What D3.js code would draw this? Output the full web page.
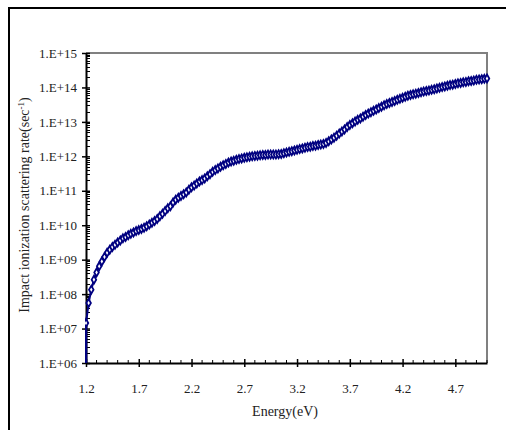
<!DOCTYPE html>
<html>
<head>
<meta charset="utf-8">
<script src="https://cdn.jsdelivr.net/npm/d3@7"></script>
<style>
  html, body { margin: 0; padding: 0; background: #fff; }
  svg text { font-family: 'Liberation Serif', 'DejaVu Serif', serif; fill: #222; }
</style>
</head>
<body>
<div id="chart"></div>
<script>
const navy = '#000080';
const grey = '#808080';

// energy (eV)
const energy = [
  1.200, 1.225, 1.250, 1.275, 1.300, 1.325, 1.350, 1.375, 1.400, 1.425,
  1.450, 1.475, 1.500, 1.525, 1.550, 1.575, 1.600, 1.625, 1.650, 1.675,
  1.700, 1.725, 1.750, 1.775, 1.800, 1.825, 1.850, 1.875, 1.900, 1.925,
  1.950, 1.975, 2.000, 2.025, 2.050, 2.075, 2.100, 2.125, 2.150, 2.175,
  2.200, 2.225, 2.250, 2.275, 2.300, 2.325, 2.350, 2.375, 2.400, 2.425,
  2.450, 2.475, 2.500, 2.525, 2.550, 2.575, 2.600, 2.625, 2.650, 2.675,
  2.700, 2.725, 2.750, 2.775, 2.800, 2.825, 2.850, 2.875, 2.900, 2.925,
  2.950, 2.975, 3.000, 3.025, 3.050, 3.075, 3.100, 3.125, 3.150, 3.175,
  3.200, 3.225, 3.250, 3.275, 3.300, 3.325, 3.350, 3.375, 3.400, 3.425,
  3.450, 3.475, 3.500, 3.525, 3.550, 3.575, 3.600, 3.625, 3.650, 3.675,
  3.700, 3.725, 3.750, 3.775, 3.800, 3.825, 3.850, 3.875, 3.900, 3.925,
  3.950, 3.975, 4.000, 4.025, 4.050, 4.075, 4.100, 4.125, 4.150, 4.175,
  4.200, 4.225, 4.250, 4.275, 4.300, 4.325, 4.350, 4.375, 4.400, 4.425,
  4.450, 4.475, 4.500, 4.525, 4.550, 4.575, 4.600, 4.625, 4.650, 4.675,
  4.700, 4.725, 4.750, 4.775, 4.800, 4.825, 4.850, 4.875, 4.900, 4.925,
  4.950, 4.975, 5.000
];

// log10 of impact ionization scattering rate (1/s)
const rateExp = [
   7.16,  7.74,  8.13,  8.42,  8.63,  8.81,  8.95,  9.08,  9.20,  9.29,
   9.37,  9.43,  9.50,  9.56,  9.62,  9.66,  9.71,  9.75,  9.79,  9.83,
   9.86,  9.89,  9.93,  9.97, 10.02, 10.07, 10.12, 10.18, 10.26, 10.33,
  10.41, 10.49, 10.55, 10.66, 10.74, 10.80, 10.85, 10.90, 10.95, 11.03,
  11.10, 11.15, 11.21, 11.27, 11.31, 11.36, 11.42, 11.48, 11.55, 11.60,
  11.65, 11.70, 11.74, 11.78, 11.82, 11.85, 11.87, 11.90, 11.92, 11.94,
  11.96, 11.97, 11.99, 12.00, 12.01, 12.02, 12.03, 12.04, 12.04, 12.05,
  12.05, 12.05, 12.05, 12.06, 12.07, 12.09, 12.11, 12.13, 12.15, 12.17,
  12.19, 12.21, 12.23, 12.25, 12.27, 12.28, 12.30, 12.31, 12.33, 12.34,
  12.36, 12.39, 12.44, 12.49, 12.54, 12.60, 12.66, 12.72, 12.78, 12.85,
  12.91, 12.96, 13.01, 13.06, 13.10, 13.15, 13.20, 13.24, 13.28, 13.32,
  13.36, 13.40, 13.44, 13.48, 13.52, 13.55, 13.58, 13.61, 13.64, 13.67,
  13.70, 13.73, 13.76, 13.78, 13.80, 13.82, 13.84, 13.86, 13.88, 13.90,
  13.91, 13.93, 13.95, 13.97, 13.99, 14.01, 14.03, 14.05, 14.07, 14.08,
  14.10, 14.12, 14.13, 14.15, 14.16, 14.18, 14.19, 14.20, 14.22, 14.23,
  14.24, 14.25, 14.26
];

const xTicks = [1.2, 1.7, 2.2, 2.7, 3.2, 3.7, 4.2, 4.7];
const yTicks = [1e6, 1e7, 1e8, 1e9, 1e10, 1e11, 1e12, 1e13, 1e14, 1e15];

const W = 506, H = 430;
const margin = { top: 53, right: 19, bottom: 67, left: 86 };
const iW = W - margin.left - margin.right;
const iH = H - margin.top - margin.bottom;

const data = energy.map((e, i) => ({ e, r: Math.pow(10, rateExp[i]) }));

const svg = d3.select('#chart').append('svg').attr('width', W).attr('height', H);

// outer chart frame (right / bottom edges fall outside the picture)
svg.append('rect')
  .attr('x', 9).attr('y', 8).attr('width', 520).attr('height', 440)
  .attr('fill', 'none').attr('stroke', '#000').attr('stroke-width', 2);

const g = svg.append('g').attr('transform', `translate(${margin.left},${margin.top})`);

const x = d3.scaleLinear().domain([1.2, 5.0]).range([0, iW]);
const y = d3.scaleLog().domain([1e6, 1e15]).range([iH, 0]);

// plot area border (top + right, grey)
g.append('path')
  .attr('d', `M0,0H${iW}V${iH}`)
  .attr('fill', 'none').attr('stroke', grey).attr('stroke-width', 2);

// minor ticks
const xMinor = d3.range(12, 51).map(v => v / 10).filter(v => !xTicks.some(t => Math.abs(t - v) < 1e-6));
g.selectAll('.xminor').data(xMinor).join('line')
  .attr('x1', d => x(d)).attr('x2', d => x(d))
  .attr('y1', iH).attr('y2', iH - 3)
  .attr('stroke', '#000').attr('stroke-width', 1);

const yMinor = [];
yTicks.slice(0, -1).forEach(t => { for (let k = 2; k < 10; k++) yMinor.push(t * k); });
g.selectAll('.yminor').data(yMinor).join('line')
  .attr('x1', 0).attr('x2', 4)
  .attr('y1', d => Math.round(y(d)) + 0.5).attr('y2', d => Math.round(y(d)) + 0.5)
  .attr('stroke', '#000').attr('stroke-width', 1);

// axes
const xAxis = g.append('g').attr('transform', `translate(0,${iH})`)
  .call(d3.axisBottom(x).tickValues(xTicks).tickFormat(d3.format('.1f')).tickSizeInner(4).tickSizeOuter(0).tickPadding(17));
xAxis.select('.domain').attr('stroke-width', 2);
xAxis.selectAll('.tick line').attr('y1', -4).attr('stroke-width', 1.5);
xAxis.selectAll('text').style('font-size', '13px').attr('fill', '#333');

const yAxis = g.append('g')
  .call(d3.axisLeft(y).tickValues(yTicks).tickFormat(d => '1.E+' + String(Math.round(Math.log10(d))).padStart(2, '0'))
    .tickSizeInner(4).tickSizeOuter(0).tickPadding(5));
yAxis.select('.domain').attr('stroke-width', 2);
yAxis.selectAll('.tick line').attr('x2', 4).attr('x1', -4).attr('stroke-width', 1.5);
yAxis.selectAll('text').style('font-size', '13px').attr('fill', '#333');

// series
svg.append('clipPath').attr('id', 'plot-clip')
  .append('rect').attr('x', -1).attr('y', -4).attr('width', iW + 5).attr('height', iH + 4);

const line = d3.line().x(d => x(d.e)).y(d => y(d.r));
const series = g.append('g').attr('clip-path', 'url(#plot-clip)');

// drop from the first point down to the axis
series.append('path')
  .datum([{ e: energy[0], r: 1e6 }, data[0]])
  .attr('d', line).attr('fill', 'none').attr('stroke', navy).attr('stroke-width', 2.5);

series.append('path')
  .datum(data)
  .attr('d', line).attr('fill', 'none').attr('stroke', navy).attr('stroke-width', 2);

const sym = d3.symbol().type(d3.symbolDiamond).size(18);
series.selectAll('.pt').data(data).join('path')
  .attr('class', 'pt')
  .attr('transform', d => `translate(${x(d.e)},${y(d.r)})`)
  .attr('d', sym)
  .attr('fill', '#fff').attr('stroke', navy).attr('stroke-width', 1.8);

// axis titles
svg.append('text')
  .attr('x', 285).attr('y', 416)
  .attr('text-anchor', 'middle')
  .style('font-size', '14px').attr('fill', '#333')
  .text('Energy(eV)');

const yt = svg.append('text')
  .attr('transform', 'translate(29,205) rotate(-90)')
  .attr('text-anchor', 'middle')
  .style('font-size', '14px').attr('fill', '#333');
yt.append('tspan').text('Impact ionization scattering rate(sec');
yt.append('tspan').attr('dy', -5).style('font-size', '9px').text('-1');
yt.append('tspan').attr('dy', 5).text(')');
</script>
</body>
</html>
